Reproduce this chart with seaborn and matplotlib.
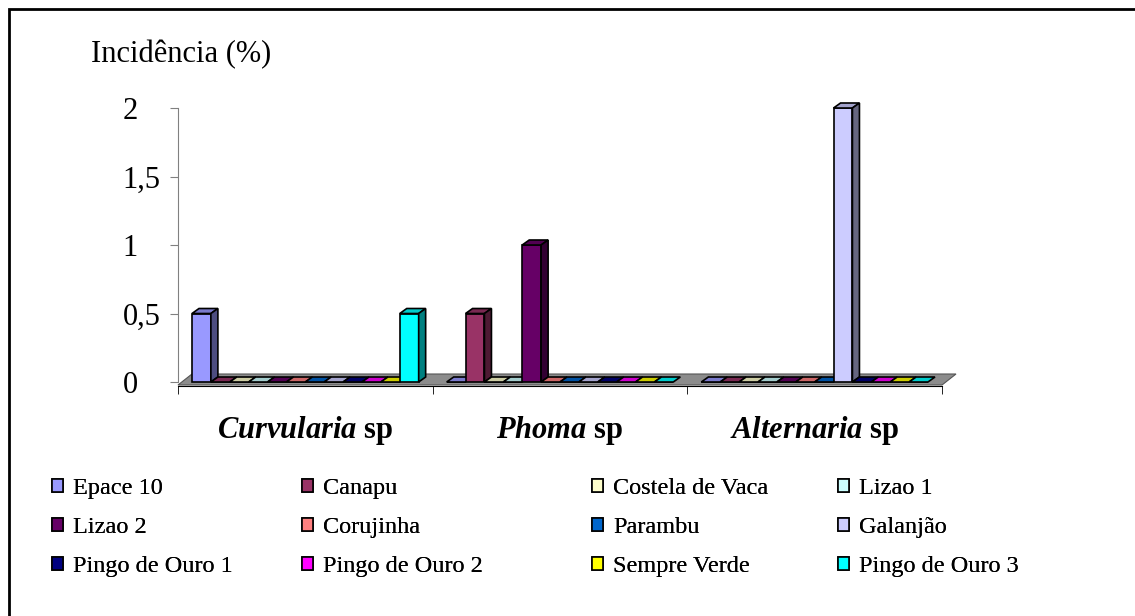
import numpy as np
import pandas as pd
import matplotlib.pyplot as plt
import seaborn as sns
from matplotlib.patches import Polygon, Patch, Rectangle
from matplotlib.colors import to_rgb

# dados
fungos = ["Curvularia sp", "Phoma sp", "Alternaria sp"]
fungos_rotulo = [r"$\mathbfit{Curvularia}$ sp", r"$\mathbfit{Phoma}$ sp", r"$\mathbfit{Alternaria}$ sp"]
cultivares = ["Epace 10", "Canapu", "Costela de Vaca", "Lizao 1", "Lizao 2", "Corujinha",
              "Parambu", "Galanjão", "Pingo de Ouro 1", "Pingo de Ouro 2", "Sempre Verde",
              "Pingo de Ouro 3"]
cores = ["#9999FF", "#993366", "#FFFFCC", "#CCFFFF", "#660066", "#FF8080",
         "#0066CC", "#CCCCFF", "#000080", "#FF00FF", "#FFFF00", "#00FFFF"]
curvularia = [0.5, 0, 0, 0, 0, 0, 0, 0, 0, 0, 0, 0.5]
phoma = [0, 0.5, 0, 0, 1, 0, 0, 0, 0, 0, 0, 0]
alternaria = [0, 0, 0, 0, 0, 0, 0, 2, 0, 0, 0, 0]
yticks = [0, 0.5, 1, 1.5, 2]
ytick_labels = ["0", "0,5", "1", "1,5", "2"]

df = pd.DataFrame({
    "fungo": np.repeat(fungos, len(cultivares)),
    "cultivar": cultivares * len(fungos),
    "incidencia": curvularia + phoma + alternaria,
})

sns.set_style("white")
plt.rcParams["font.family"] = ["Liberation Serif", "DejaVu Serif"]
plt.rcParams["mathtext.fontset"] = "custom"
plt.rcParams["mathtext.rm"] = "Liberation Serif"
plt.rcParams["mathtext.it"] = "Liberation Serif:italic"
plt.rcParams["mathtext.bf"] = "Liberation Serif:bold"
plt.rcParams["mathtext.bfit"] = "Liberation Serif:italic:bold"
for k in ["text.color", "axes.labelcolor", "xtick.color", "ytick.color"]:
    plt.rcParams[k] = "black"

W, H = 1135, 616
fig = plt.figure(figsize=(W / 100, H / 100), dpi=100)
ax = fig.add_axes([178 / W, 1 - 382 / H, 764 / W, 274 / H])

sns.barplot(data=df, x="fungo", y="incidencia", hue="cultivar", order=fungos,
            hue_order=cultivares, palette=cores, width=0.89, saturation=1,
            edgecolor="black", linewidth=1.2, errorbar=None, legend=False, ax=ax)

ax.set_xlim(-0.5, 2.5)
ax.set_ylim(0, 2)
ax.set_xlabel("")
ax.set_ylabel("")

# eixos
for s in ["top", "right"]:
    ax.spines[s].set_visible(False)
ax.spines["left"].set_color("#808080")
ax.spines["bottom"].set_color("black")
ax.spines["bottom"].set_position(("outward", 3))
ax.set_yticks(yticks)
ax.set_yticklabels(ytick_labels, fontsize=22, ha="left")
ax.tick_params(axis="y", length=6, color="#808080", labelcolor="black", pad=34, left=True)
ax.set_xticks([0, 1, 2])
ax.set_xticklabels(fungos_rotulo, fontsize=22, fontweight="bold")
ax.set_xticks([-0.5, 0.5, 1.5, 2.5], minor=True)
ax.tick_params(axis="x", which="major", length=0, pad=20, labelcolor="black")
ax.tick_params(axis="x", which="minor", length=6, color="black", bottom=True)

# efeito 3D (piso, topo e lateral das barras)
to_px = ax.transData.transform
to_data = ax.transData.inverted().transform
dx, dy = 7, 5

(fx0, fy0), (fx1, _) = to_px([(-0.5, 0), (2.5, 0)])
piso = np.array([(fx0, fy0 - 3), (fx1, fy0 - 3), (fx1 + 14, fy0 + 8), (fx0 + 14, fy0 + 8)])
ax.add_patch(Polygon(to_data(piso), closed=True, facecolor="#8c8c8c",
                     edgecolor="#555555", linewidth=0.8, zorder=1, clip_on=False))

barras = sorted([p for p in ax.patches if isinstance(p, Rectangle)], key=lambda p: p.get_x())
for i, bar in enumerate(barras):
    z = 2 + i * 0.01
    bar.set_zorder(z)
    bar.set_clip_on(False)
    rgb = np.array(to_rgb(bar.get_facecolor()))
    x0, y0 = bar.get_x(), bar.get_y()
    (px0, py0), (px1, py1) = to_px([(x0, y0), (x0 + bar.get_width(), y0 + bar.get_height())])
    topo = np.array([(px0, py1), (px1, py1), (px1 + dx, py1 + dy), (px0 + dx, py1 + dy)])
    lado = np.array([(px1, py0), (px1, py1), (px1 + dx, py1 + dy), (px1 + dx, py0 + dy)])
    ax.add_patch(Polygon(to_data(topo), closed=True, facecolor=rgb * 0.8, edgecolor="black",
                         linewidth=1.2, zorder=z, clip_on=False))
    if bar.get_height() > 0:
        ax.add_patch(Polygon(to_data(lado), closed=True, facecolor=rgb * 0.5, edgecolor="black",
                             linewidth=1.2, zorder=z, clip_on=False))

fig.text(91 / W, 1 - 55 / H, "Incidência (%)", fontsize=22, va="center", ha="left")

# legenda em 4 colunas (preenchida por linha)
col_x = [52, 302, 592, 838]
for c in range(4):
    idx = [r * 4 + c for r in range(3)]
    handles = [Patch(facecolor=cores[k], edgecolor="black", linewidth=1.2) for k in idx]
    leg = fig.legend(handles, [cultivares[k] for k in idx], loc="upper left",
                     bbox_to_anchor=(col_x[c] / W, 1 - 478 / H), frameon=False,
                     fontsize=17.5, handlelength=0.46, handleheight=0.46,
                     handletextpad=0.42, labelspacing=0.75, borderpad=0, borderaxespad=0)
    fig.add_artist(leg)

# moldura
fig.add_artist(Rectangle((9 / W, -0.05), 1.2, 1 - 9 / H + 0.05, transform=fig.transFigure,
                         fill=False, edgecolor="black", linewidth=2))

fig.savefig("out.png", dpi=100)
